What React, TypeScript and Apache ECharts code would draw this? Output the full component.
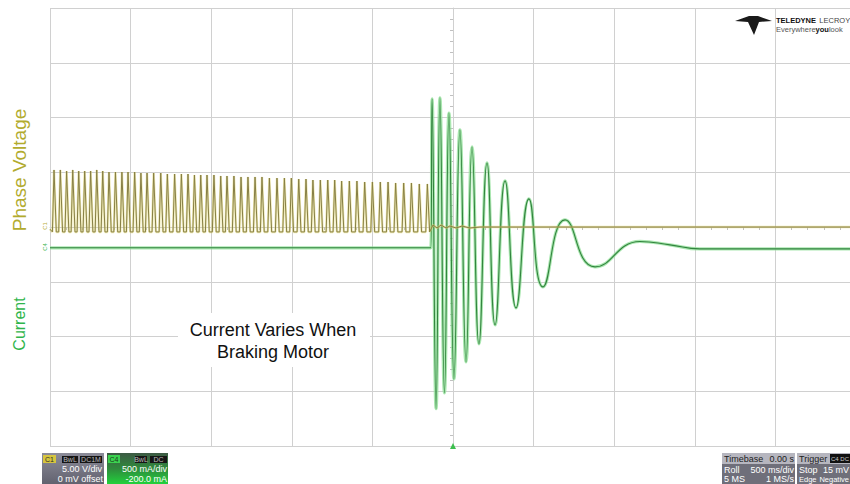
import React, { useEffect, useRef } from "react";
import * as echarts from "echarts";

// Time axis (s): 500 ms/div, 10 divisions, trigger at centre
const timeMin = -2.5;
const timeMax = 2.5;
const timeStep = 0.5;

// Channel 1 (phase voltage, 5 V/div)
const voltMin = -20;
const voltMax = 20;
const voltStep = 5;

// Channel 4 (current, 500 mA/div, -200 mA offset)
const ampMin = -1.8;
const ampMax = 2.2;

// Phase voltage pulse peaks (s) and their levels (V)
const peakTimes = [
  -2.473, -2.434, -2.395, -2.357, -2.32, -2.283, -2.246, -2.208, -2.171, -2.132,
  -2.092, -2.052, -2.014, -1.973, -1.934, -1.896, -1.855, -1.811, -1.77, -1.725,
  -1.683, -1.642, -1.602, -1.563, -1.524, -1.481, -1.439, -1.4, -1.357, -1.313,
  -1.27, -1.226, -1.183, -1.137, -1.09, -1.044, -1.001, -0.955, -0.91,
  -0.867, -0.821, -0.775, -0.732, -0.689, -0.641, -0.594, -0.546, -0.498, -0.449,
  -0.401, -0.354, -0.304, -0.256, -0.207, -0.157,
];
const peakVolts = [
  5.21, 5.21, 5.11, 5.21, 5.11, 5.11, 5.11, 5.21, 5.11, 5.02,
  5.02, 5.02, 5.02, 5.02, 4.93, 4.93, 4.93, 4.93, 4.84, 4.84,
  4.84, 4.84, 4.75, 4.75, 4.75, 4.75, 4.66, 4.66, 4.66, 4.57,
  4.57, 4.57, 4.57, 4.47, 4.47, 4.47, 4.47, 4.38, 4.38,
  4.29, 4.29, 4.29, 4.29, 4.2, 4.2, 4.2, 4.11, 4.11, 4.11,
  4.11, 4.02, 4.02, 4.02, 3.93, 3.93,
];
const troughVolt = -0.45;
const startVolt = -0.2;
// Voltage after braking starts
const brakeTimes = [-0.124, -0.099, -0.074, -0.043, -0.019, 0.019, 0.056, 0.105, 0.167, 2.5];
const brakeVolts = [0.18, -0.09, 0.18, -0.09, 0.09, -0.09, 0.09, -0.09, 0, 0];

// Current trace (s, A)
const currentTimes = [
  -2.5, -0.138, -0.13, -0.105, -0.081, -0.053, -0.025, 0.006, 0.043, 0.081, 0.118,
  0.161, 0.211, 0.261, 0.323, 0.391, 0.471, 0.558, 0.695, 0.881, 1.16, 1.346, 1.532, 2.5,
];
const currentAmps = [
  0.01, 0.01, 1.37, -1.46, 1.38, -1.315, 1.24, -1.187, 1.087, -1.032, 0.931,
  -0.868, 0.785, -0.694, 0.621, -0.539, 0.457, -0.347, 0.265, -0.164, 0.068, 0.037, 0, 0,
];

const FONT = "'Liberation Sans', Arial, sans-serif";

function buildVoltage(): number[][] {
  const edge = 0.012;
  const top = 0.002;
  const pts: number[][] = [[timeMin, startVolt]];
  peakTimes.forEach((t, i) => {
    pts.push([t - edge, troughVolt], [t - top, peakVolts[i]], [t + top, peakVolts[i]], [t + edge, troughVolt]);
  });
  brakeTimes.forEach((t, i) => pts.push([t, brakeVolts[i]]));
  return pts;
}

function buildCurrent(): number[][] {
  return currentTimes.map((t, i) => [t, currentAmps[i]]);
}

function txt(x: number, y: number, text: string, fill: string, size: number, align: string, extra: any = {}) {
  return {
    type: "text",
    x,
    y,
    silent: true,
    style: { text, fill, font: `${extra.weight || "normal"} ${size}px ${FONT}`, align, verticalAlign: "middle" },
    z: 20,
  };
}

function tag(x: number, y: number, w: number, h: number, fill: string, text: string, color: string, size = 7) {
  return [
    { type: "rect", shape: { x, y, width: w, height: h }, style: { fill }, z: 19, silent: true },
    txt(x + w / 2, y + h / 2, text, color, size, "center"),
  ];
}

function decorations(): any[] {
  const g: any[] = [];
  // Side labels
  g.push({
    type: "text", x: 19, y: 170, rotation: Math.PI / 2, silent: true,
    style: { text: "Phase Voltage", fill: "#b2ab2e", font: `19px ${FONT}`, align: "center", verticalAlign: "middle" },
  });
  g.push({
    type: "text", x: 19, y: 324, rotation: Math.PI / 2, silent: true,
    style: { text: "Current", fill: "#2fb54b", font: `16px ${FONT}`, align: "center", verticalAlign: "middle" },
  });
  // Channel markers
  g.push({ type: "text", x: 45, y: 226, rotation: Math.PI / 2, silent: true,
    style: { text: "C1", fill: "#b7ae3a", font: `6px ${FONT}`, align: "center", verticalAlign: "middle" } });
  g.push({ type: "text", x: 45, y: 247, rotation: Math.PI / 2, silent: true,
    style: { text: "C4", fill: "#43b653", font: `6px ${FONT}`, align: "center", verticalAlign: "middle" } });
  // Trigger marker
  g.push({ type: "polygon", shape: { points: [[450, 449], [456, 449], [453, 443]] }, style: { fill: "#3cbf4e" }, z: 20, silent: true });

  // Annotation
  g.push({ type: "rect", shape: { x: 178, y: 313, width: 192, height: 54 }, style: { fill: "#ffffff" }, z: 18, silent: true });
  g.push({
    type: "text", x: 273, y: 341, silent: true, z: 20,
    style: { text: "Current Varies When\nBraking Motor", fill: "#111111", font: `18px ${FONT}`, align: "center", verticalAlign: "middle", lineHeight: 22 },
  });

  // Logo
  g.push({
    type: "polygon", silent: true, z: 20,
    shape: { points: [[735, 21], [749, 16], [758, 16], [772, 21], [759, 22], [754, 35], [748, 22]] },
    style: { fill: "#1a1a1a" },
  });
  g.push({
    type: "text", x: 776, y: 20, silent: true, z: 20,
    style: {
      text: "{a|TELEDYNE} {b|LECROY}",
      verticalAlign: "middle", align: "left",
      rich: {
        a: { fill: "#111", font: `bold 7.5px ${FONT}` },
        b: { fill: "#444", font: `7.5px ${FONT}` },
      },
    },
  });
  g.push({
    type: "text", x: 776, y: 29, silent: true, z: 20,
    style: {
      text: "{a|Everywhere}{b|you}{a|look}",
      verticalAlign: "middle", align: "left",
      rich: {
        a: { fill: "#555", font: `7.5px ${FONT}` },
        b: { fill: "#111", font: `bold 7.5px ${FONT}` },
      },
    },
  });

  // C1 box
  g.push({
    type: "rect", shape: { x: 42, y: 453, width: 62, height: 31 }, silent: true, z: 17,
    style: { fill: new echarts.graphic.LinearGradient(0, 0, 0, 1, [{ offset: 0, color: "#8c8c99" }, { offset: 1, color: "#62626f" }]) },
  });
  g.push(...tag(43, 455, 13, 8, "#d6c53f", "C1", "#2a2a2a"));
  g.push(...tag(62, 456, 16, 7, "#151515", "BwL", "#b8b8b8"));
  g.push(...tag(80, 456, 22, 7, "#151515", "DC1M", "#b8b8b8"));
  g.push(txt(102, 469, "5.00 V/div", "#ffffff", 9, "right"));
  g.push(txt(103, 478.5, "0 mV offset", "#ffffff", 9, "right"));

  // C4 box
  g.push({
    type: "rect", shape: { x: 107, y: 453, width: 61, height: 31 }, silent: true, z: 17,
    style: { fill: new echarts.graphic.LinearGradient(0, 0, 0, 1, [{ offset: 0, color: "#3d5a44" }, { offset: 0.5, color: "#2f8a3c" }, { offset: 1, color: "#22d13c" }]) },
  });
  g.push(...tag(108, 455, 12, 8, "#3bd24f", "C4", "#1a3a1a"));
  g.push(...tag(135, 456, 12, 7, "#151515", "BwL", "#b8b8b8"));
  g.push(...tag(150, 456, 17, 7, "#151515", "DC", "#b8b8b8"));
  g.push(txt(167, 469, "500 mA/div", "#ffffff", 9, "right"));
  g.push(txt(167, 478.5, "-200.0 mA", "#ffffff", 9, "right"));

  // Timebase box
  g.push({ type: "rect", shape: { x: 722, y: 453, width: 73, height: 31 }, style: { fill: "#6f6f7a" }, z: 17, silent: true });
  g.push({ type: "rect", shape: { x: 722, y: 453, width: 73, height: 11 }, style: { fill: "#b6b6bf" }, z: 18, silent: true });
  g.push(txt(724, 459, "Timebase", "#222", 9, "left"));
  g.push(txt(794, 459, "0.00 s", "#222", 9, "right"));
  g.push(txt(724, 469.5, "Roll", "#fff", 9, "left"));
  g.push(txt(794, 469.5, "500 ms/div", "#fff", 9, "right"));
  g.push(txt(724, 479, "5 MS", "#fff", 9, "left"));
  g.push(txt(794, 479, "1 MS/s", "#fff", 9, "right"));

  // Trigger box
  g.push({ type: "rect", shape: { x: 797, y: 453, width: 70, height: 31 }, style: { fill: "#6f6f7a" }, z: 17, silent: true });
  g.push({ type: "rect", shape: { x: 797, y: 453, width: 70, height: 11 }, style: { fill: "#b6b6bf" }, z: 18, silent: true });
  g.push(txt(799, 459, "Trigger", "#222", 9, "left"));
  g.push(...tag(830, 454, 20, 9, "#111", "C4 DC", "#ccc", 6));
  g.push(txt(799, 469.5, "Stop", "#fff", 9, "left"));
  g.push(txt(849, 469.5, "15 mV", "#fff", 9, "right"));
  g.push(txt(799, 479, "Edge", "#fff", 7.5, "left"));
  g.push(txt(849, 479, "Negative", "#fff", 7.5, "right"));
  return g;
}

export default function App() {
  const ref = useRef<HTMLDivElement>(null);
  useEffect(() => {
    if (!ref.current) return;
    const chart = echarts.init(ref.current, undefined, { renderer: "svg" });
    const voltage = buildVoltage();
    const current = buildCurrent();
    const gridColor = "#d0d0d0";
    chart.setOption({
      animation: false,
      backgroundColor: "#ffffff",
      grid: { left: 50, top: 8, width: 806, height: 438, show: false },
      xAxis: {
        type: "value", min: timeMin, max: timeMax, interval: timeStep,
        axisLabel: { show: false },
        axisTick: { show: false },
        minorTick: { show: true, splitNumber: 5, length: 3, lineStyle: { color: "#c0c0c0" } },
        axisLine: { show: true, onZero: true, onZeroAxisIndex: 0, lineStyle: { color: gridColor, width: 1 } },
        splitLine: { show: true, lineStyle: { color: gridColor, width: 1 } },
      },
      yAxis: [
        {
          type: "value", min: voltMin, max: voltMax, interval: voltStep,
          axisLabel: { show: false },
          axisTick: { show: false },
          minorTick: { show: true, splitNumber: 5, length: 3, lineStyle: { color: "#c0c0c0" } },
          axisLine: { show: true, onZero: true, lineStyle: { color: gridColor, width: 1 } },
          splitLine: { show: true, lineStyle: { color: gridColor, width: 1 } },
        },
        { type: "value", min: ampMin, max: ampMax, show: false, splitLine: { show: false } },
      ],
      series: [
        {
          type: "line", name: "Current glow", yAxisIndex: 1, data: current, showSymbol: false, symbol: "none",
          smooth: 0.5, lineStyle: { color: "#8ddf96", width: 3.2, opacity: 0.75 }, silent: true, z: 2,
        },
        {
          type: "line", name: "Current", yAxisIndex: 1, data: current, showSymbol: false, symbol: "none",
          smooth: 0.5, lineStyle: { color: "#33843f", width: 1.1 }, silent: true, z: 3,
        },
        {
          type: "line", name: "Phase Voltage glow", yAxisIndex: 0, data: voltage, showSymbol: false, symbol: "none",
          lineStyle: { color: "#e0d56a", width: 2.4, opacity: 0.5 }, silent: true, z: 4,
        },
        {
          type: "line", name: "Phase Voltage", yAxisIndex: 0, data: voltage, showSymbol: false, symbol: "none",
          lineStyle: { color: "#877f45", width: 1 }, silent: true, z: 5,
        },
      ],
      graphic: { elements: decorations() },
    });
    return () => chart.dispose();
  }, []);
  return (
    <div style={{ position: "fixed", left: 0, top: 0, width: 850, height: 484, overflow: "hidden", background: "#fff" }}>
      <div ref={ref} style={{ width: 862, height: 484 }} />
    </div>
  );
}
